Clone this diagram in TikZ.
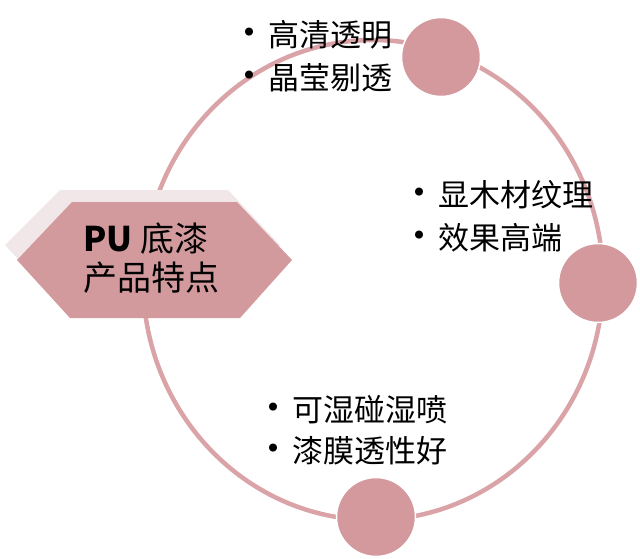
\documentclass[tikz,border=0pt]{standalone}
\usepackage{fontspec}
\setmainfont{Noto Sans CJK SC}
\newcommand{\bul}{{\fontsize{38}{30}\selectfont •}\hspace{0pt}}
\begin{document}
\begin{tikzpicture}[x=1pt,y=-1pt,
  ringc/.style={draw=ringcol,line width=4.5pt},
  dot/.style={circle,fill=dotcol,draw=white,line width=1.5pt,minimum size=79pt,inner sep=0pt},
  item/.style={anchor=west,inner sep=0pt,font=\fontsize{31}{31}\selectfont},
  htext/.style={anchor=west,inner sep=0pt,font=\fontsize{34}{34}\selectfont}]
\definecolor{ringcol}{HTML}{D9A3A7}
\definecolor{dotcol}{HTML}{D4999D}
\definecolor{hexcol}{HTML}{D39A9E}
\definecolor{shadcol}{HTML}{F1E7E8}
\useasboundingbox (0,0) rectangle (640,559);
\draw[ringc] (373,280) ellipse [x radius=230, y radius=240];
\node[dot] (c1) at (441,57) {};
\node[dot] (c2) at (598,283) {};
\node[dot] (c3) at (376,517) {};
\fill[shadcol] (5,245) -- (60,190) -- (228,190) -- (280,245) -- (228,305) -- (60,305) -- cycle;
\fill[hexcol] (17,260) -- (72,202) -- (237,202) -- (292,260) -- (240,318) -- (70,318) -- cycle;
\node[htext] (h1) at (83,239) {\textbf{PU} 底漆};
\node[htext] (h2) at (83,278) {产品特点};
\node[item] (a1) at (230,35) {\bul 高清透明};
\node[item] (a2) at (230,78) {\bul 晶莹剔透};
\node[item] (b1) at (400,195) {\bul 显木材纹理};
\node[item] (b2) at (400,238) {\bul 效果高端};
\node[item] (d1) at (254,410) {\bul 可湿碰湿喷};
\node[item] (d2) at (254,451) {\bul 漆膜透性好};
\end{tikzpicture}
\end{document}
